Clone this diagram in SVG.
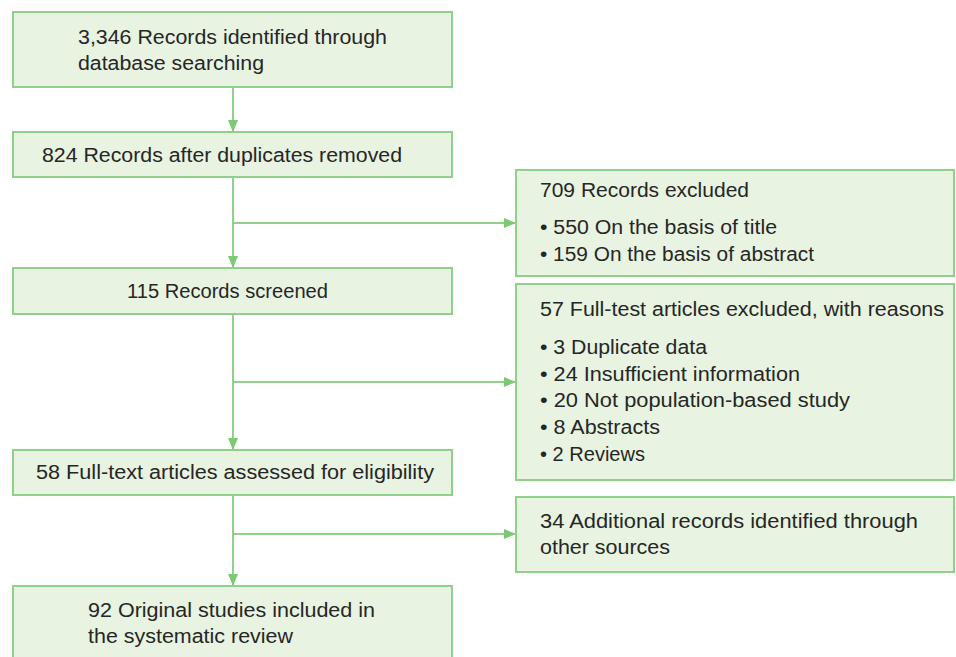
<svg xmlns="http://www.w3.org/2000/svg" width="956" height="657" viewBox="0 0 956 657">
<style>
.box{fill:#e8f3e1;stroke:#8fd18a;stroke-width:2}
.t{font-family:"Liberation Sans",Arial,sans-serif;font-size:20px;fill:#262626}
.c{fill:none;stroke:#8fd18a;stroke-width:2}
</style>
<defs>
<marker id="ah" markerWidth="12" markerHeight="10" refX="12" refY="5" orient="auto" markerUnits="userSpaceOnUse">
<path d="M0,0 L12,5 L0,10 Z" fill="#7dc873"/>
</marker>
</defs>
<rect width="956" height="657" fill="#ffffff"/>
<g id="connectors">
<line class="c" x1="233" y1="88" x2="233" y2="132" marker-end="url(#ah)"/>
<line class="c" x1="233" y1="178" x2="233" y2="268" marker-end="url(#ah)"/>
<line class="c" x1="233" y1="223" x2="516" y2="223" marker-end="url(#ah)"/>
<line class="c" x1="233" y1="315" x2="233" y2="450" marker-end="url(#ah)"/>
<line class="c" x1="233" y1="382" x2="516" y2="382" marker-end="url(#ah)"/>
<line class="c" x1="233" y1="496" x2="233" y2="586" marker-end="url(#ah)"/>
<line class="c" x1="233" y1="534" x2="516" y2="534" marker-end="url(#ah)"/>
</g>
<g id="n1">
<rect class="box" x="13" y="12" width="439" height="75"/>
<text class="t" x="78" y="44" textLength="309" lengthAdjust="spacingAndGlyphs">3,346 Records identified through</text>
<text class="t" x="78" y="70" textLength="186" lengthAdjust="spacingAndGlyphs">database searching</text>
</g>
<g id="n2">
<rect class="box" x="13" y="132" width="439" height="45"/>
<text class="t" x="42" y="162" textLength="360" lengthAdjust="spacingAndGlyphs">824 Records after duplicates removed</text>
</g>
<g id="n3">
<rect class="box" x="516" y="170" width="438" height="106"/>
<text class="t" x="540" y="197" textLength="209" lengthAdjust="spacingAndGlyphs">709 Records excluded</text>
<text class="t" x="540" y="234" textLength="237" lengthAdjust="spacingAndGlyphs">• 550 On the basis of title</text>
<text class="t" x="540" y="261" textLength="274" lengthAdjust="spacingAndGlyphs">• 159 On the basis of abstract</text>
</g>
<g id="n4">
<rect class="box" x="13" y="268" width="439" height="46"/>
<text class="t" x="127" y="298" textLength="201" lengthAdjust="spacingAndGlyphs">115 Records screened</text>
</g>
<g id="n5">
<rect class="box" x="516" y="284" width="438" height="196"/>
<text class="t" x="540" y="316" textLength="404" lengthAdjust="spacingAndGlyphs">57 Full-test articles excluded, with reasons</text>
<text class="t" x="540" y="354" textLength="167" lengthAdjust="spacingAndGlyphs">• 3 Duplicate data</text>
<text class="t" x="540" y="381" textLength="260" lengthAdjust="spacingAndGlyphs">• 24 Insufficient information</text>
<text class="t" x="540" y="407" textLength="310" lengthAdjust="spacingAndGlyphs">• 20 Not population-based study</text>
<text class="t" x="540" y="434" textLength="120" lengthAdjust="spacingAndGlyphs">• 8 Abstracts</text>
<text class="t" x="540" y="461" textLength="105" lengthAdjust="spacingAndGlyphs">• 2 Reviews</text>
</g>
<g id="n6">
<rect class="box" x="13" y="450" width="439" height="45"/>
<text class="t" x="36" y="479" textLength="398" lengthAdjust="spacingAndGlyphs">58 Full-text articles assessed for eligibility</text>
</g>
<g id="n7">
<rect class="box" x="516" y="497" width="438" height="75"/>
<text class="t" x="540" y="528" textLength="378" lengthAdjust="spacingAndGlyphs">34 Additional records identified through</text>
<text class="t" x="540" y="554" textLength="130" lengthAdjust="spacingAndGlyphs">other sources</text>
</g>
<g id="n8">
<rect class="box" x="13" y="586" width="439" height="90"/>
<text class="t" x="88" y="617" textLength="287" lengthAdjust="spacingAndGlyphs">92 Original studies included in</text>
<text class="t" x="88" y="643" textLength="205" lengthAdjust="spacingAndGlyphs">the systematic review</text>
</g>
</svg>
